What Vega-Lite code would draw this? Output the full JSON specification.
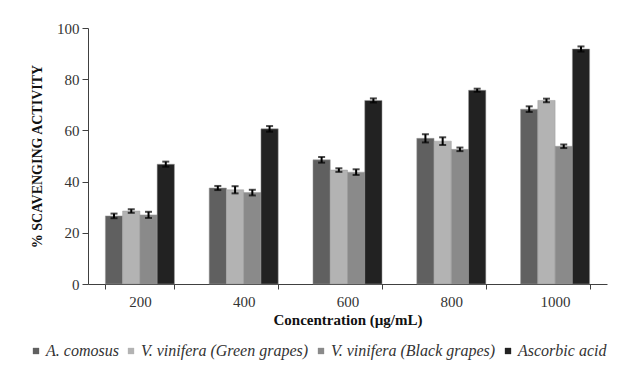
{
  "$schema": "https://vega.github.io/schema/vega-lite/v6.json",
  "autosize": {"type": "none"},
  "padding": {"left": 88, "top": 28, "right": 21, "bottom": 88},
  "width": 519,
  "height": 256,
  "background": "white",
  "config": {
    "view": {"stroke": null},
    "font": "Liberation Serif, Times New Roman, serif",
    "axis": {"grid": false, "domainColor": "#404040", "tickColor": "#404040", "labelColor": "#333333", "titleColor": "#111111", "labelFont": "Liberation Serif, Times New Roman, serif", "titleFont": "Liberation Serif, Times New Roman, serif", "labelFontSize": 15, "titleFontSize": 15, "titleFontWeight": "bold"},
    "legend": {"labelFont": "Liberation Serif, Times New Roman, serif"}
  },
  "data": {
    "values": [
      {"conc": "200", "sample": "A. comosus", "value": 26.6, "err": 0.9},
      {"conc": "200", "sample": "V. vinifera (Green grapes)", "value": 28.5, "err": 0.7},
      {"conc": "200", "sample": "V. vinifera (Black grapes)", "value": 27.0, "err": 1.2},
      {"conc": "200", "sample": "Ascorbic acid", "value": 46.8, "err": 1.0},
      {"conc": "400", "sample": "A. comosus", "value": 37.5, "err": 0.8},
      {"conc": "400", "sample": "V. vinifera (Green grapes)", "value": 36.8, "err": 1.4},
      {"conc": "400", "sample": "V. vinifera (Black grapes)", "value": 35.7, "err": 1.1},
      {"conc": "400", "sample": "Ascorbic acid", "value": 60.6, "err": 1.1},
      {"conc": "600", "sample": "A. comosus", "value": 48.5, "err": 1.1},
      {"conc": "600", "sample": "V. vinifera (Green grapes)", "value": 44.5, "err": 0.7},
      {"conc": "600", "sample": "V. vinifera (Black grapes)", "value": 43.7, "err": 1.1},
      {"conc": "600", "sample": "Ascorbic acid", "value": 71.7, "err": 0.8},
      {"conc": "800", "sample": "A. comosus", "value": 56.9, "err": 1.6},
      {"conc": "800", "sample": "V. vinifera (Green grapes)", "value": 55.8, "err": 1.5},
      {"conc": "800", "sample": "V. vinifera (Black grapes)", "value": 52.6, "err": 0.7},
      {"conc": "800", "sample": "Ascorbic acid", "value": 75.7, "err": 0.6},
      {"conc": "1000", "sample": "A. comosus", "value": 68.3, "err": 1.1},
      {"conc": "1000", "sample": "V. vinifera (Green grapes)", "value": 71.7, "err": 0.7},
      {"conc": "1000", "sample": "V. vinifera (Black grapes)", "value": 53.8, "err": 0.7},
      {"conc": "1000", "sample": "Ascorbic acid", "value": 91.8, "err": 1.0}
    ]
  },
  "encoding": {
    "x": {
      "field": "conc", "type": "ordinal", "sort": ["200", "400", "600", "800", "1000"],
      "scale": {"paddingInner": 0.335, "paddingOuter": 0.1675},
      "axis": {"title": "Concentration (µg/mL)", "labelAngle": 0, "tickBand": "extent", "tickSize": 5, "labelPadding": 5, "titlePadding": 3}
    },
    "xOffset": {
      "field": "sample", "type": "nominal",
      "sort": ["A. comosus", "V. vinifera (Green grapes)", "V. vinifera (Black grapes)", "Ascorbic acid"],
      "scale": {"paddingInner": 0, "paddingOuter": 0}
    },
    "y": {
      "field": "value", "type": "quantitative",
      "scale": {"domain": [0, 100]},
      "axis": {"title": "% SCAVENGING ACTIVITY", "values": [0, 20, 40, 60, 80, 100], "tickSize": 6, "labelPadding": 3, "titlePadding": 12, "titleFontSize": 14}
    }
  },
  "layer": [
    {
      "mark": {"type": "bar", "stroke": "#9a9a9a", "strokeWidth": 0.5},
      "encoding": {
        "color": {
          "field": "sample", "type": "nominal",
          "sort": ["A. comosus", "V. vinifera (Green grapes)", "V. vinifera (Black grapes)", "Ascorbic acid"],
          "scale": {"domain": ["A. comosus", "V. vinifera (Green grapes)", "V. vinifera (Black grapes)", "Ascorbic acid"], "range": ["#606060", "#b3b3b3", "#8a8a8a", "#222222"]},
          "legend": {
            "title": null, "orient": "none", "direction": "horizontal",
            "legendX": -60, "legendY": 315,
            "symbolType": "square", "symbolSize": 40, "symbolStrokeWidth": 0,
            "labelFontStyle": "italic", "labelFontSize": 16, "labelColor": "#333333",
            "labelOffset": 2, "columnPadding": 4, "labelLimit": 300
          }
        }
      }
    },
    {
      "mark": {"type": "errorbar", "ticks": {"size": 7, "thickness": 2, "color": "black"}, "rule": {"strokeWidth": 2, "color": "black"}},
      "encoding": {
        "yError": {"field": "err"}
      }
    }
  ]
}
